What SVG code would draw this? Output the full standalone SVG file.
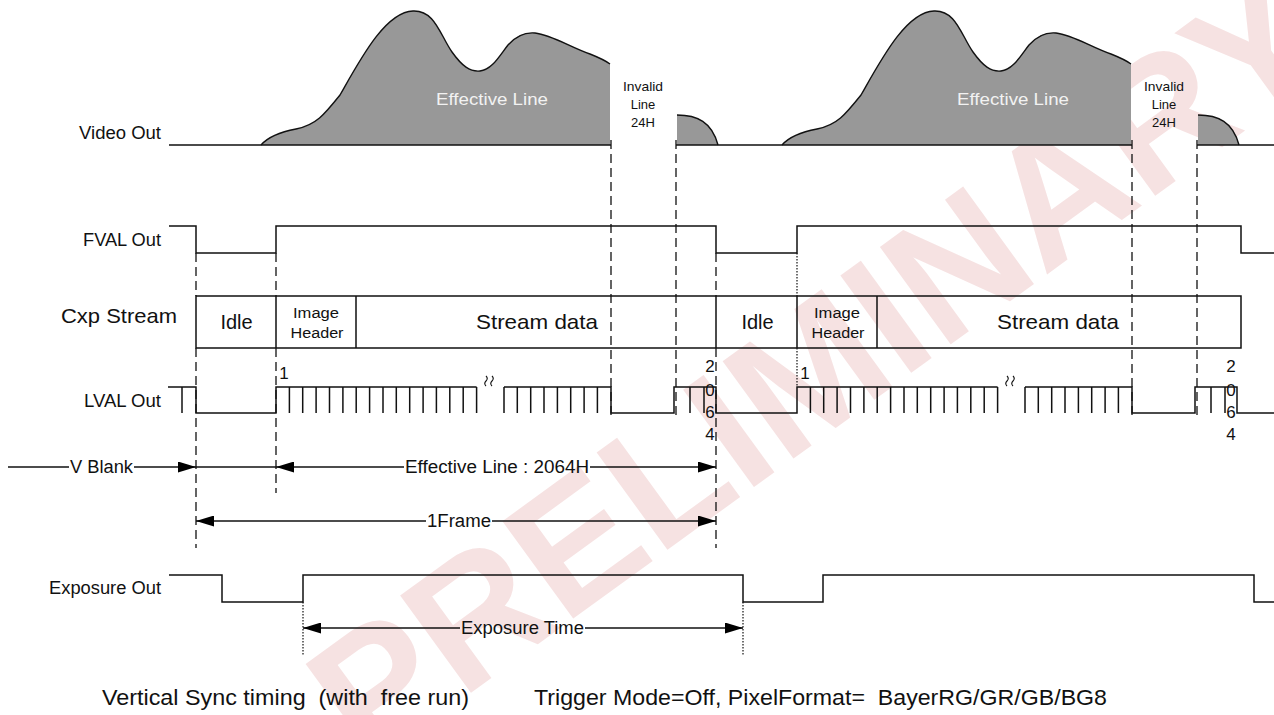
<svg xmlns="http://www.w3.org/2000/svg" width="1274" height="715" viewBox="0 0 1274 715">
<defs>
<style>
.sig{fill:none;stroke:#111;stroke-width:1.5}
.dash{fill:none;stroke:#111;stroke-width:1.3;stroke-dasharray:9 5}
.dot{fill:none;stroke:#111;stroke-width:1.2;stroke-dasharray:1.5 1.5}
.vfill{fill:#989898;stroke:none}
.vedge{fill:none;stroke:#111;stroke-width:1.4}
.t{font-family:"Liberation Sans",Arial,sans-serif;fill:#111}
.lbl{font-size:18px}
.big{font-size:21px}
.hdr{font-size:14px;text-anchor:middle}
.num{font-size:17px;text-anchor:middle}
.inv{font-size:13px;text-anchor:middle}
.eff{font-size:17px;fill:#f2f2f2}
.cap{font-size:22px}
.wm{font-family:"Liberation Sans",Arial,sans-serif;font-weight:bold;font-size:175px;fill:#f6e2e2}
</style>
<marker id="ah" viewBox="0 0 18 11" refX="18" refY="5.5" markerWidth="18" markerHeight="11" markerUnits="userSpaceOnUse" orient="auto-start-reverse"><path d="M0,0 L18,5.5 L0,11 Z" fill="#000"/></marker>
</defs>
<rect width="1274" height="715" fill="#fff"/>
<g id="watermark"><text class="wm" x="0" y="0" dy="0.36em" text-anchor="middle" transform="translate(815,365) rotate(-36)">PRELIMINARY</text></g>

<g id="labels">
<text class="t lbl" x="79" y="139" textLength="82" lengthAdjust="spacingAndGlyphs">Video Out</text>
<text class="t lbl" x="83" y="246" textLength="78" lengthAdjust="spacingAndGlyphs">FVAL Out</text>
<text class="t big" x="61" y="323" textLength="116" lengthAdjust="spacingAndGlyphs">Cxp Stream</text>
<text class="t lbl" x="84" y="407" textLength="77" lengthAdjust="spacingAndGlyphs">LVAL Out</text>
<text class="t lbl" x="49" y="594" textLength="112" lengthAdjust="spacingAndGlyphs">Exposure Out</text>
</g>

<g id="video-frame1">
<path class="vfill" d="M261,145 C268,137 280,132 296,129 C316,125 324,115 340,95 C360,60 385,12 413,11 C435,10 440,35 452,52 C462,66 470,72 480,71 C492,70 500,55 508,45 C516,36 524,32 535,33 C552,35 570,47 590,54 C600,58 606,61 610,64 L610,145 Z"/>
<path class="vedge" d="M261,145 C268,137 280,132 296,129 C316,125 324,115 340,95 C360,60 385,12 413,11 C435,10 440,35 452,52 C462,66 470,72 480,71 C492,70 500,55 508,45 C516,36 524,32 535,33 C552,35 570,47 590,54 C600,58 606,61 610,64"/>
<path class="vfill" d="M677,115 C697,115 712,122 718,145 L677,145 Z"/>
<path class="vedge" d="M677,115 C697,115 712,122 718,145"/>
<text class="t eff" x="436" y="105" textLength="112" lengthAdjust="spacingAndGlyphs">Effective Line</text>
<text class="t inv" x="643" y="91" textLength="40" lengthAdjust="spacingAndGlyphs">Invalid</text>
<text class="t inv" x="643" y="109">Line</text>
<text class="t inv" x="643" y="127">24H</text>
</g>
<g id="video-frame2" transform="translate(521,0)">
<path class="vfill" d="M261,145 C268,137 280,132 296,129 C316,125 324,115 340,95 C360,60 385,12 413,11 C435,10 440,35 452,52 C462,66 470,72 480,71 C492,70 500,55 508,45 C516,36 524,32 535,33 C552,35 570,47 590,54 C600,58 606,61 610,64 L610,145 Z"/>
<path class="vedge" d="M261,145 C268,137 280,132 296,129 C316,125 324,115 340,95 C360,60 385,12 413,11 C435,10 440,35 452,52 C462,66 470,72 480,71 C492,70 500,55 508,45 C516,36 524,32 535,33 C552,35 570,47 590,54 C600,58 606,61 610,64"/>
<path class="vfill" d="M677,115 C697,115 712,122 718,145 L677,145 Z"/>
<path class="vedge" d="M677,115 C697,115 712,122 718,145"/>
<text class="t eff" x="436" y="105" textLength="112" lengthAdjust="spacingAndGlyphs">Effective Line</text>
<text class="t inv" x="643" y="91" textLength="40" lengthAdjust="spacingAndGlyphs">Invalid</text>
<text class="t inv" x="643" y="109">Line</text>
<text class="t inv" x="643" y="127">24H</text>
</g>
<g id="video-baseline"><path class="sig" d="M169,145 H611 M676,145 H1132 M1197,145 H1274"/></g>

<g id="fval"><path class="sig" d="M169,226 H196 V253 H276 V226 H716 V253 H797 V226 H1241 V253 H1274"/></g>

<g id="cxp-stream">
<path class="sig" d="M196,296 H1241 V348 H196 Z M276,296 V348 M356,296 V348 M716,296 V348 M797,296 V348 M877,296 V348"/>
<text class="t" font-size="20" x="236.5" y="329" text-anchor="middle">Idle</text>
<text class="t hdr" x="316" y="318" textLength="46" lengthAdjust="spacingAndGlyphs">Image</text>
<text class="t hdr" x="317" y="338" textLength="53" lengthAdjust="spacingAndGlyphs">Header</text>
<text class="t big" x="476" y="329" textLength="122" lengthAdjust="spacingAndGlyphs">Stream data</text>
<text class="t" font-size="20" x="757.5" y="329" text-anchor="middle">Idle</text>
<text class="t hdr" x="837" y="318" textLength="46" lengthAdjust="spacingAndGlyphs">Image</text>
<text class="t hdr" x="838" y="338" textLength="53" lengthAdjust="spacingAndGlyphs">Header</text>
<text class="t big" x="997" y="329" textLength="122" lengthAdjust="spacingAndGlyphs">Stream data</text>
</g>

<g id="lval">
<path class="sig" d="M168,387 H196 V413 H276 V387 H476.6 M504,387 H611 V413 H674 V387 H716 V413 H797 V387 H997.6 M1025,387 H1132 V413 H1195 V387 H1237 V413 H1274"/>
<path class="sig" d="M182,387 V413"/>
<g id="lval-ticks1">
<path class="sig" d="M289.4,387V413 M302.7,387V413 M316.1,387V413 M329.5,387V413 M342.9,387V413 M356.2,387V413 M369.6,387V413 M383,387V413 M396.3,387V413 M409.7,387V413 M423.1,387V413 M436.4,387V413 M449.8,387V413 M463.2,387V413 M476.6,387V413 M504,387V413 M517.3,387V413 M530.7,387V413 M544,387V413 M557.4,387V413 M570.7,387V413 M584.1,387V413 M597.4,387V413 M690,387V413 M704,387V413"/>
<path fill="none" stroke="#111" stroke-width="1.1" d="M486,376 q2.5,2.5 0,5 q-2.5,2.5 0,5 M492,376 q2.5,2.5 0,5 q-2.5,2.5 0,5"/>
</g>
<g id="lval-ticks2" transform="translate(521,0)">
<path class="sig" d="M289.4,387V413 M302.7,387V413 M316.1,387V413 M329.5,387V413 M342.9,387V413 M356.2,387V413 M369.6,387V413 M383,387V413 M396.3,387V413 M409.7,387V413 M423.1,387V413 M436.4,387V413 M449.8,387V413 M463.2,387V413 M476.6,387V413 M504,387V413 M517.3,387V413 M530.7,387V413 M544,387V413 M557.4,387V413 M570.7,387V413 M584.1,387V413 M597.4,387V413 M690,387V413 M704,387V413"/>
<path fill="none" stroke="#111" stroke-width="1.1" d="M486,376 q2.5,2.5 0,5 q-2.5,2.5 0,5 M492,376 q2.5,2.5 0,5 q-2.5,2.5 0,5"/>
</g>
<text class="t num" x="284" y="379">1</text>
<text class="t num" x="710" y="372">2</text>
<text class="t num" x="710" y="396">0</text>
<text class="t num" x="710" y="418">6</text>
<text class="t num" x="710" y="440">4</text>
<text class="t num" x="805" y="379">1</text>
<text class="t num" x="1231" y="372">2</text>
<text class="t num" x="1231" y="396">0</text>
<text class="t num" x="1231" y="418">6</text>
<text class="t num" x="1231" y="440">4</text>
</g>

<g id="exposure"><path class="sig" d="M169,575 H222 V602 H303 V575 H743 V602 H823 V575 H1254 V602 H1274"/></g>

<g id="guides">
<path class="dash" d="M196,253 V296 M196,348 V548 M276,253 V296 M276,348 V493 M716,253 V296 M716,348 V548 M611,140 V418 M676,140 V418 M1132,140 V418 M1197,140 V418"/>
<path class="dot" d="M797,253 V296 M797,348 V387 M303,602 V656 M743,602 V656"/>
</g>

<g id="connectors">
<line class="sig" x1="8" y1="467" x2="69" y2="467"/>
<line class="sig" x1="134" y1="467" x2="196" y2="467" marker-end="url(#ah)"/>
<line class="sig" x1="196" y1="467" x2="276" y2="467"/>
<line class="sig" x1="276" y1="467" x2="404" y2="467" marker-start="url(#ah)"/>
<line class="sig" x1="590" y1="467" x2="716" y2="467" marker-end="url(#ah)"/>
<line class="sig" x1="196" y1="521" x2="426" y2="521" marker-start="url(#ah)"/>
<line class="sig" x1="492" y1="521" x2="716" y2="521" marker-end="url(#ah)"/>
<line class="sig" x1="303" y1="628" x2="460" y2="628" marker-start="url(#ah)"/>
<line class="sig" x1="585" y1="628" x2="743" y2="628" marker-end="url(#ah)"/>
<text class="t lbl" x="70" y="473" textLength="63" lengthAdjust="spacingAndGlyphs">V Blank</text>
<text class="t lbl" x="405" y="473" textLength="184" lengthAdjust="spacingAndGlyphs">Effective Line : 2064H</text>
<text class="t lbl" x="427" y="527" textLength="64" lengthAdjust="spacingAndGlyphs">1Frame</text>
<text class="t lbl" x="461" y="634" textLength="123" lengthAdjust="spacingAndGlyphs">Exposure Time</text>
</g>

<g id="caption">
<text class="t cap" x="102" y="705" xml:space="preserve" textLength="367" lengthAdjust="spacingAndGlyphs">Vertical Sync timing  (with  free run)</text>
<text class="t cap" x="534" y="705" xml:space="preserve" textLength="573" lengthAdjust="spacingAndGlyphs">Trigger Mode=Off, PixelFormat=  BayerRG/GR/GB/BG8</text>
</g>
</svg>
